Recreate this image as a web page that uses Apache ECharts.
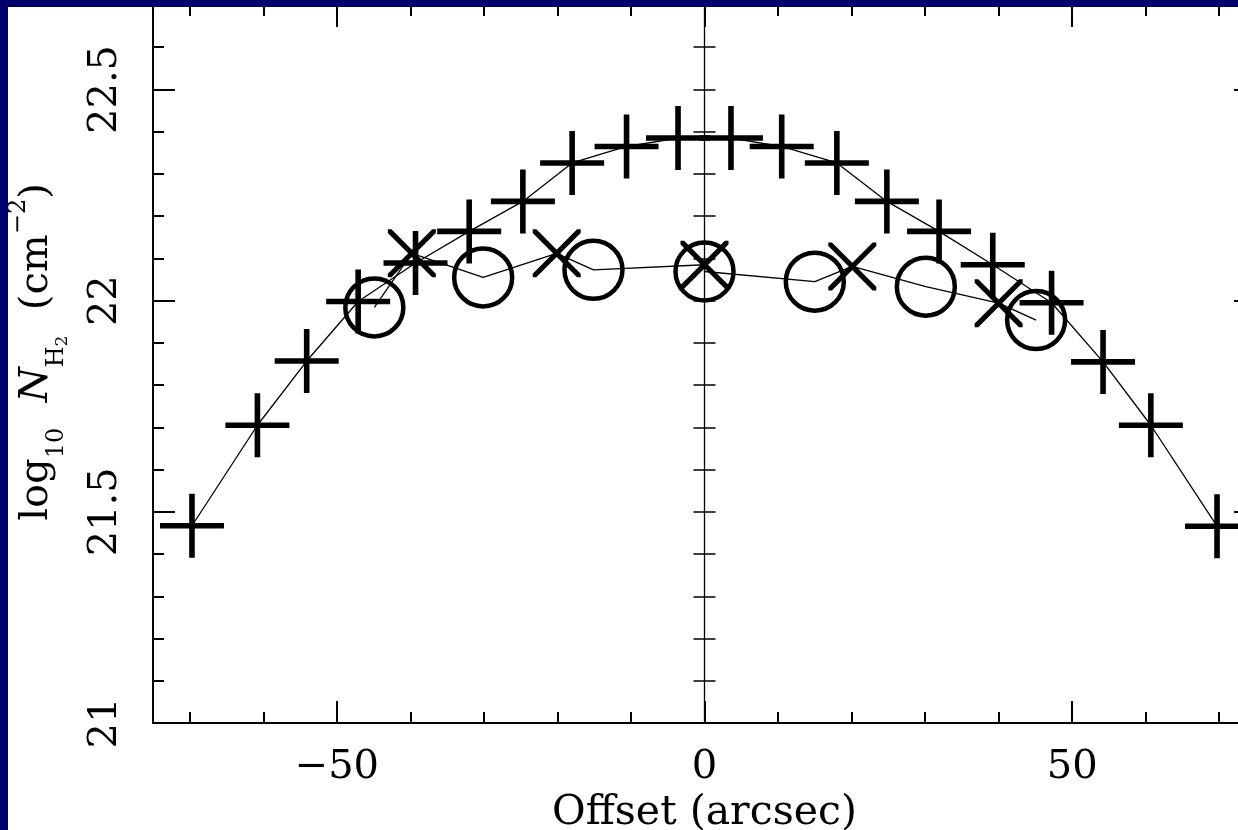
<!DOCTYPE html>
<html>
<head>
<meta charset="utf-8">
<style>
  html, body { margin: 0; padding: 0; background: #fff; }
  #chart { width: 1238px; height: 830px; }
</style>
<script src="https://cdn.jsdelivr.net/npm/echarts@6/dist/echarts.min.js"></script>
</head>
<body>
<div id="chart"></div>
<script>
// ---- data ----
const plusX = [-69.7, -60.8, -54.1, -47.1, -39.3, -32.0, -24.7, -18.0, -10.6, -3.6,
               3.6, 10.5, 18.0, 24.8, 31.9, 39.2, 47.2, 54.2, 60.7, 69.7];
const plusY = [21.467, 21.705, 21.857, 21.998, 22.089, 22.164, 22.235, 22.326, 22.365, 22.385,
               22.385, 22.365, 22.326, 22.235, 22.164, 22.085, 21.995, 21.855, 21.705, 21.466];
const crossX = [-39.8, -20.1, 0, 20.1, 40.0];
const crossY = [22.112, 22.112, 22.085, 22.081, 21.994];
const circleX = [-44.9, -30.1, -15.1, 0, 15.0, 30.1, 45.1];
const circleY = [21.984, 22.055, 22.073, 22.069, 22.045, 22.033, 21.954];

// ---- axes / ticks ----
const xMin = -75, xMax = 75;
const yMin = 21, yMax = 22.7;
const xMajorTicks = [-50, 0, 50];
const xMinorTicks = [-70, -60, -40, -30, -20, -10, 10, 20, 30, 40, 60, 70];
const xTickLabels = ['\u221250', '0', '50'];
const yMajorTicks = [21, 21.5, 22, 22.5];
const yMinorTicks = [21.1, 21.2, 21.3, 21.4, 21.6, 21.7, 21.8, 21.9, 22.1, 22.2, 22.3, 22.4, 22.6];
const yCenterTicks = [21.1, 21.2, 21.3, 21.4, 21.5, 21.6, 21.7, 21.8, 21.9, 22.0, 22.1, 22.2, 22.3, 22.4, 22.5, 22.6];
const yTickLabels = ['21', '21.5', '22', '22.5'];
const xTitle = 'Offset (arcsec)';

const FONT = 'DejaVu Serif';
const INK = '#000';

function pairs(xs, ys) { return xs.map((x, i) => [x, ys[i]]); }
const plusData = pairs(plusX, plusY);
const crossData = pairs(crossX, crossY);
const circleData = pairs(circleX, circleY);
const lowerLine = crossData.concat(circleData).sort((a, b) => a[0] - b[0]);

const PLUS = 'path://M0,29.2L64,29.2L64,34.8L0,34.8Z M29.2,0L34.8,0L34.8,64L29.2,64Z';
const CROSS = 'path://M0,0L7.6,0L100,92.4L100,100L92.4,100L0,7.6Z M100,0L100,7.6L7.6,100L0,100L0,92.4L92.4,0Z';

function xAx(pos, ticks, len, extra) {
  return Object.assign({
    type: 'value', min: xMin, max: xMax, position: pos,
    axisLine: { show: false, onZero: false },
    axisTick: { show: true, inside: true, length: len, customValues: ticks, lineStyle: { color: INK, width: 2 } },
    axisLabel: { show: false },
    splitLine: { show: false }
  }, extra || {});
}
function yAx(pos, ticks, len, extra) {
  return Object.assign({
    type: 'value', min: yMin, max: yMax, position: pos,
    axisLine: { show: false, onZero: false },
    axisTick: { show: true, inside: true, length: len, customValues: ticks, lineStyle: { color: INK, width: 2 } },
    axisLabel: { show: false },
    splitLine: { show: false }
  }, extra || {});
}

const chart = echarts.init(document.getElementById('chart'), null, { renderer: 'canvas' });

const option = {
  animation: false,
  backgroundColor: '#fff',
  grid: { left: 153, top: 5, right: -18, bottom: 107, containLabel: false, outerBoundsMode: 'none' },
  graphic: {
    elements: [
      { type: 'rect', left: 0, top: 0, shape: { width: 8, height: 830 }, style: { fill: '#00006c' }, z: 100, silent: true },
      { type: 'rect', left: 0, top: 0, shape: { width: 1238, height: 7 }, style: { fill: '#00006c' }, z: 100, silent: true }
    ]
  },
  xAxis: [
    xAx('bottom', xMajorTicks, 22, {
      axisLine: { show: true, onZero: false, lineStyle: { color: INK, width: 2 } },
      axisLabel: {
        show: true, customValues: xMajorTicks, margin: 25,
        fontFamily: FONT, fontSize: 40, lineHeight: 40, color: INK,
        formatter: v => xTickLabels[xMajorTicks.indexOf(v)]
      },
      name: xTitle, nameLocation: 'middle', nameGap: 66,
      nameTextStyle: { fontFamily: FONT, fontSize: 41, lineHeight: 41, color: INK }
    }),
    xAx('bottom', xMinorTicks, 11),
    xAx('top', xMajorTicks, 22, { axisLine: { show: true, onZero: false, lineStyle: { color: INK, width: 2 } } }),
    xAx('top', xMinorTicks, 11)
  ],
  yAxis: [
    yAx('left', yMajorTicks, 22, {
      axisLine: { show: true, onZero: false, lineStyle: { color: INK, width: 2 } },
      axisLabel: {
        show: true, customValues: yMajorTicks, rotate: 90, margin: 27,
        fontFamily: FONT, fontSize: 40, lineHeight: 40, color: INK,
        formatter: v => yTickLabels[yMajorTicks.indexOf(v)]
      },
      name: '{m|log}{s|10}{m|  }{i|N}{s|H}{hh|2}{m|  (cm}{p|\u22122}{m|)}',
      nameLocation: 'middle', nameRotate: 90, nameGap: 72,
      nameTextStyle: {
        color: INK, fontFamily: FONT, padding: [0, 0, 0, 24],
        rich: {
          m: { fontFamily: FONT, fontSize: 40, lineHeight: 80, verticalAlign: 'top', padding: [16, 0, 0, 0], color: INK },
          i: { fontFamily: FONT, fontSize: 40, lineHeight: 80, verticalAlign: 'top', padding: [16, 0, 0, 0], fontStyle: 'italic', color: INK },
          s: { fontFamily: FONT, fontSize: 24, lineHeight: 80, verticalAlign: 'top', padding: [44, 0, 0, 0], color: INK },
          hh: { fontFamily: FONT, fontSize: 17, lineHeight: 80, verticalAlign: 'top', padding: [53, 0, 0, 0], color: INK },
          p: { fontFamily: FONT, fontSize: 24, lineHeight: 80, verticalAlign: 'top', padding: [6, 0, 0, 0], color: INK }
        }
      }
    }),
    yAx('left', yMinorTicks, 11),
    yAx('right', yMajorTicks, 22, { axisLine: { show: true, onZero: false, lineStyle: { color: INK, width: 2 } } }),
    yAx('right', yMinorTicks, 11),
    // centre line at x = 0 with ticks crossing both sides
    yAx('left', yCenterTicks, 11, {
      axisLine: { show: true, onZero: true, onZeroAxisIndex: 0, lineStyle: { color: INK, width: 1.3 } },
      axisTick: { show: true, inside: true, length: 11, customValues: yCenterTicks, lineStyle: { color: INK, width: 1.5 } }
    }),
    yAx('left', yCenterTicks, 11, {
      axisLine: { show: false, onZero: true, onZeroAxisIndex: 0 },
      axisTick: { show: true, inside: false, length: 11, customValues: yCenterTicks, lineStyle: { color: INK, width: 1.5 } }
    })
  ],
  series: [
    {
      type: 'line', data: plusData, xAxisIndex: 0, yAxisIndex: 0,
      symbol: 'none', silent: true, z: 2,
      lineStyle: { color: INK, width: 1.3 }
    },
    {
      type: 'line', data: lowerLine, xAxisIndex: 0, yAxisIndex: 0,
      symbol: 'none', silent: true, z: 2,
      lineStyle: { color: INK, width: 1.3 }
    },
    {
      type: 'scatter', data: plusData, xAxisIndex: 0, yAxisIndex: 0,
      symbol: PLUS, symbolSize: 64, silent: true, z: 3,
      itemStyle: { color: INK, opacity: 1 }
    },
    {
      type: 'scatter', data: crossData, xAxisIndex: 0, yAxisIndex: 0,
      symbol: CROSS, symbolSize: 48, silent: true, z: 3,
      itemStyle: { color: INK, opacity: 1 }
    },
    {
      type: 'scatter', data: circleData, xAxisIndex: 0, yAxisIndex: 0,
      symbol: 'circle', symbolSize: 58, silent: true, z: 3,
      itemStyle: { color: 'rgba(0,0,0,0)', borderColor: INK, borderWidth: 4.5, opacity: 1 }
    }
  ]
};
chart.setOption(option);
</script>
</body>
</html>
